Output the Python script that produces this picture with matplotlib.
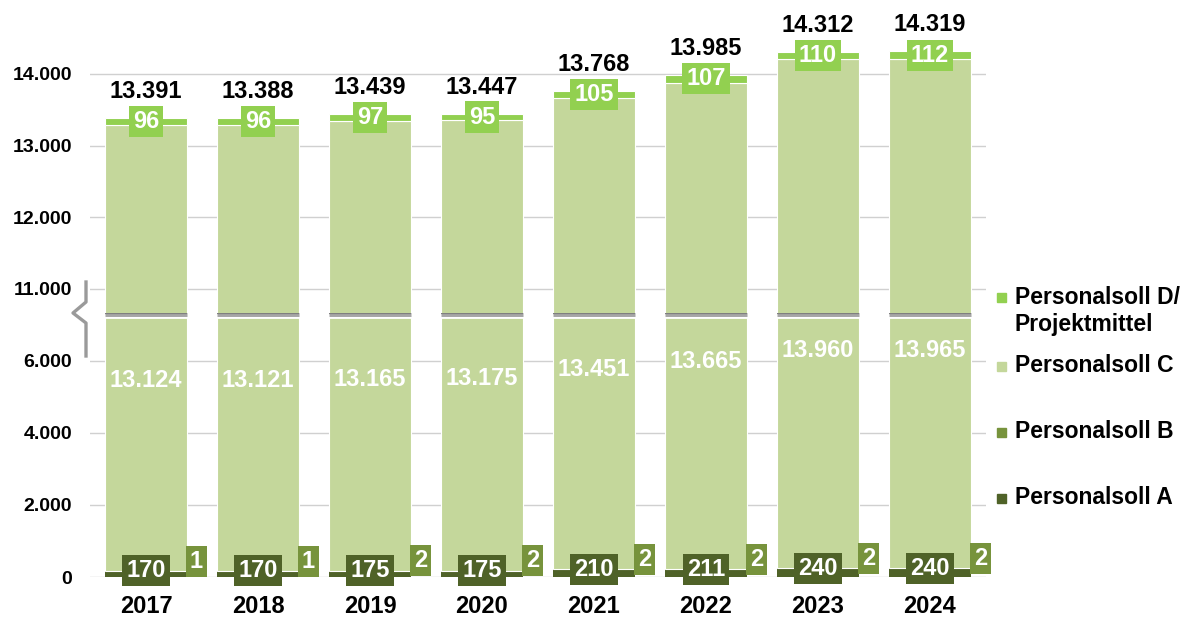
import matplotlib
matplotlib.use('Agg')
import matplotlib.pyplot as plt
from matplotlib.transforms import blended_transform_factory
from matplotlib.lines import Line2D
from matplotlib.patches import Rectangle

plt.rcParams['font.family'] = ['Liberation Sans', 'DejaVu Sans']
plt.rcParams['font.weight'] = 'bold'

# Daten
jahre = ['2017', '2018', '2019', '2020', '2021', '2022', '2023', '2024']
soll_a = [170, 170, 175, 175, 210, 211, 240, 240]
soll_b = [1, 1, 2, 2, 2, 2, 2, 2]
soll_c = [13124, 13121, 13165, 13175, 13451, 13665, 13960, 13965]
soll_d = [96, 96, 97, 95, 105, 107, 110, 112]
gesamt = [13391, 13388, 13439, 13447, 13768, 13985, 14312, 14319]

ticks_unten = [0, 2000, 4000, 6000]
ticks_oben = [11000, 12000, 13000, 14000]

farbe_a = '#4f6228'
farbe_b = '#77933c'
farbe_c = '#c4d79b'
farbe_d = '#92d050'
grid_farbe = '#d0d0d0'


def fmt(v):
    return f'{v:,}'.replace(',', '.')


fig = plt.figure(figsize=(11.93, 6.18), dpi=100)
W, H = 1193, 618
links, rechts = 90 / W, 986 / W
ax_u = fig.add_axes([links, (H - 577) / H, rechts - links, (577 - 313) / H])
ax_o = fig.add_axes([links, (H - 313) / H, rechts - links, (313 - 40) / H])

x = list(range(len(jahre)))
breite = 0.73
basis_c = [a + b for a, b in zip(soll_a, soll_b)]
basis_d = [a + b + c for a, b, c in zip(soll_a, soll_b, soll_c)]

for ax in (ax_u, ax_o):
    ax.bar(x, soll_a, breite, color=farbe_a, edgecolor='none', zorder=2)
    ax.bar(x, soll_b, breite, bottom=soll_a, color=farbe_b, edgecolor='none', zorder=2)
    ax.bar(x, soll_c, breite, bottom=basis_c, color=farbe_c, edgecolor='white', linewidth=0.8, zorder=2)
    ax.bar(x, soll_d, breite, bottom=basis_d, color=farbe_d, edgecolor='white', linewidth=0.8, zorder=2)
    ax.set_xlim(-0.5, len(jahre) - 0.5)
    for s in ax.spines.values():
        s.set_visible(False)
    ax.tick_params(length=0, labelsize=14, pad=13)
    ax.grid(axis='y', color=grid_farbe, linewidth=1.0, zorder=0)
    ax.set_axisbelow(True)

ax_u.set_ylim(0, 7333)
ax_o.set_ylim(10665, 14474)
ax_u.set_yticks(ticks_unten)
ax_u.set_yticklabels([fmt(t) for t in ticks_unten])
ax_o.set_yticks(ticks_oben)
ax_o.set_yticklabels([fmt(t) for t in ticks_oben])
ax_o.set_xticks([])
ax_u.set_xticks(x)
ax_u.set_xticklabels(jahre, fontsize=17)
ax_u.tick_params(axis='x', pad=13)

# Bruchlinien in den Balken
tr = blended_transform_factory(ax_u.transData, ax_u.transAxes)
for i in x:
    xs = [i - breite / 2, i + breite / 2]
    ax_u.plot(xs, [1, 1], color='white', lw=8.5, transform=tr, clip_on=False, zorder=5, solid_capstyle='butt')
    ax_u.plot(xs, [1, 1], color='#a6a6a6', lw=5, transform=tr, clip_on=False, zorder=6, solid_capstyle='butt')
    ax_u.plot(xs, [1, 1], color='#7f7f7f', lw=1.6, transform=tr, clip_on=False, zorder=7, solid_capstyle='butt')

# Bruchsymbol an der y-Achse
px = [86, 86, 73, 86, 86]
py = [282, 302, 313, 323, 356]
fig.add_artist(Line2D([p / W for p in px], [(H - p) / H for p in py],
                      color='#9a9a9a', lw=2.4, transform=fig.transFigure))

# Beschriftungen
box = 'square,pad=0.17'
for i in x:
    ax_o.annotate(fmt(gesamt[i]), (i, gesamt[i]), xytext=(0, 19), textcoords='offset points',
                  ha='center', va='center', fontsize=17, color='black', annotation_clip=False)
    ax_o.annotate(str(soll_d[i]), (i, basis_d[i] + soll_d[i] / 2), ha='center', va='center',
                  fontsize=17, color='white', zorder=8,
                  bbox=dict(boxstyle=box, fc=farbe_d, ec='none'))
    ax_u.text(i, 5450 + (soll_c[i] - soll_c[0]), fmt(soll_c[i]), ha='center', va='center',
              fontsize=17, color='white', zorder=8)
    ax_u.annotate(str(soll_a[i]), (i, soll_a[i]), ha='center', va='center',
                  fontsize=17, color='white', zorder=8, annotation_clip=False,
                  bbox=dict(boxstyle=box, fc=farbe_a, ec='none'))
    ax_u.annotate(str(soll_b[i]), (i + 0.45, basis_c[i]), xytext=(0, 7), textcoords='offset points',
                  ha='center', va='center', fontsize=17, color='white', zorder=8,
                  bbox=dict(boxstyle=box, fc=farbe_b, ec='none'))

# Legende
legende = [
    (farbe_d, 'Personalsoll D/\nProjektmittel', 311),
    (farbe_c, 'Personalsoll C', 366),
    (farbe_b, 'Personalsoll B', 432),
    (farbe_a, 'Personalsoll A', 498),
]
for farbe, text, y in legende:
    ym = 297 if 'D/' in text else y
    fig.add_artist(Rectangle((997 / W, (H - ym - 4.5) / H), 9 / W, 9 / H,
                             color=farbe, transform=fig.transFigure))
    fig.text(1015 / W, (H - y) / H, text, fontsize=16.5, va='center', ha='left',
             linespacing=1.2)

fig.savefig('out.png', dpi=100)
